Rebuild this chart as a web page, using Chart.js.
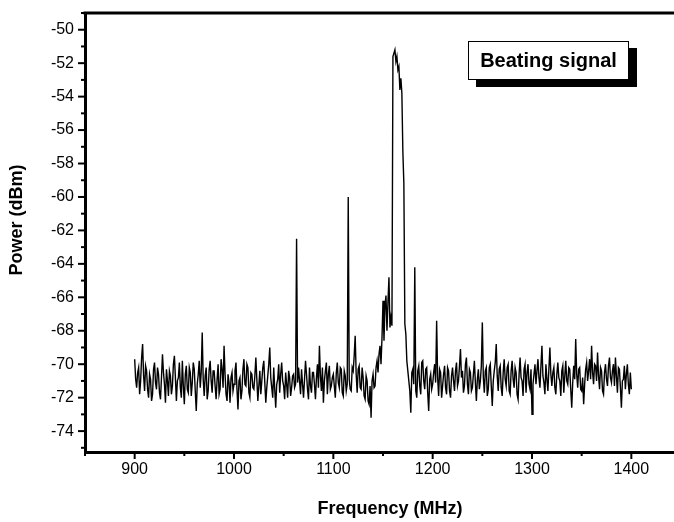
<!DOCTYPE html>
<html>
<head>
<meta charset="utf-8">
<script src="https://cdn.jsdelivr.net/npm/chart.js@4/dist/chart.umd.min.js"></script>
<style>
  html, body { margin: 0; padding: 0; background: #fff; overflow: hidden; width: 674px; height: 522px; }
  #wrap { position: absolute; left: 0; top: 0; width: 690px; height: 522px; }
  #legendBox {
    position: absolute; left: 468px; top: 41px; width: 161px; height: 39px;
    border: 1px solid #000; background: #fff; box-shadow: 8px 7px 0 #000;
    font: bold 20px "Liberation Sans", Arial, sans-serif; color: #000;
    display: flex; align-items: center; justify-content: center; box-sizing: border-box;
  }
</style>
</head>
<body>
<div id="wrap"><canvas id="c" width="690" height="522"></canvas></div>
<div id="legendBox">Beating signal</div>
<script>
// ---- data ----
const freqStart = 900;      // MHz, first sample
const freqStep = 1;         // MHz between samples (501 points, 900..1400)
const powerDbm = [
  -69.7,-70.9,-71.4,-70.5,-70.2,-71.8,-71.0,-69.6,-68.8,-70.7,-71.6,-70.1,-70.4,-71.5,-72.0,-70.6,-70.9,-72.2,-71.8,-70.3,
  -69.9,-71.1,-71.5,-70.2,-70.6,-71.7,-72.1,-70.8,-69.4,-70.5,-71.2,-72.3,-70.3,-71.0,-71.9,-70.4,-70.7,-71.8,-71.3,-70.0,
  -69.5,-70.8,-72.2,-71.0,-70.8,-69.9,-71.4,-72.0,-69.8,-71.3,-72.4,-70.6,-70.1,-71.5,-71.7,-70.2,-70.5,-71.9,-71.1,-69.9,
  -70.3,-71.6,-72.8,-71.2,-70.6,-69.8,-71.4,-70.5,-68.1,-70.9,-71.9,-70.7,-70.2,-72.1,-71.6,-70.3,-69.8,-71.0,-71.7,-70.4,
  -70.4,-71.3,-72.1,-70.9,-70.0,-71.8,-71.5,-69.7,-70.3,-71.4,-68.9,-70.6,-71.8,-72.2,-70.6,-71.1,-72.3,-70.8,-70.5,-71.6,
  -71.2,-70.4,-69.9,-71.5,-72.7,-71.0,-70.8,-72.1,-71.6,-70.3,-69.7,-71.2,-71.3,-70.0,-70.2,-71.7,-72.0,-70.5,-70.6,-71.4,
  -71.5,-70.7,-69.6,-70.9,-72.2,-71.3,-70.4,-71.8,-71.0,-70.2,-69.8,-71.1,-72.3,-71.4,-70.7,-70.0,-69.0,-70.8,-71.4,-72.0,
  -70.2,-71.5,-72.6,-71.2,-70.9,-70.0,-71.7,-70.6,-69.9,-71.0,-71.3,-72.1,-70.5,-71.2,-72.0,-70.4,-70.8,-71.9,-71.4,-70.7,
  -70.6,-71.4,-71.2,-62.5,-71.1,-70.2,-71.0,-71.8,-70.3,-71.2,-72.0,-70.9,-69.8,-70.6,-71.5,-72.1,-70.2,-71.3,-71.7,-70.5,
  -70.5,-71.2,-72.1,-70.8,-70.0,-71.4,-68.9,-70.7,-71.6,-70.2,-72.3,-71.0,-70.4,-69.9,-71.8,-70.6,-70.1,-71.5,-71.3,-70.8,
  -70.6,-71.3,-72.0,-70.5,-69.9,-71.1,-71.4,-70.2,-70.3,-71.7,-71.9,-70.4,-70.7,-71.6,-71.2,-60.0,-70.9,-71.5,-71.6,-70.2,
  -70.4,-69.5,-68.3,-70.6,-71.7,-70.3,-70.1,-71.4,-71.5,-70.2,-70.8,-71.9,-72.1,-70.7,-71.0,-72.2,-72.4,-71.3,-73.2,-71.0,
  -70.6,-71.4,-71.3,-70.2,-69.8,-70.5,-69.4,-68.9,-70.0,-68.4,-66.2,-68.6,-66.5,-65.9,-68.0,-66.3,-64.8,-67.8,-67.2,-67.7,
  -51.6,-51.4,-51.2,-51.9,-51.6,-52.4,-52.2,-53.6,-52.9,-53.8,-57.3,-59.2,-67.6,-68.2,-69.8,-70.4,-71.0,-71.6,-72.9,-70.5,
  -70.3,-71.2,-64.2,-71.6,-72.0,-70.4,-70.1,-71.3,-71.8,-69.9,-69.8,-71.0,-71.5,-70.3,-70.2,-71.7,-72.8,-70.9,-70.6,-71.5,
  -71.2,-70.5,-70.0,-71.1,-67.4,-70.8,-71.9,-70.3,-70.5,-72.0,-71.3,-70.6,-70.1,-71.4,-71.8,-70.2,-70.4,-71.6,-72.0,-70.7,
  -70.2,-71.0,-71.6,-70.4,-69.9,-71.3,-71.0,-70.1,-69.1,-70.8,-70.4,-71.7,-71.3,-70.0,-69.6,-71.2,-71.8,-70.3,-70.5,-71.6,
  -71.4,-70.6,-69.8,-71.1,-72.2,-70.9,-70.3,-71.5,-71.0,-70.1,-67.5,-70.8,-71.7,-70.4,-70.2,-71.9,-71.5,-70.2,-70.0,-71.3,
  -72.5,-71.0,-70.4,-69.9,-68.8,-70.7,-71.6,-70.3,-70.1,-71.4,-71.9,-70.5,-69.7,-70.9,-71.3,-70.2,-70.0,-71.6,-71.8,-70.4,
  -69.8,-70.9,-71.4,-70.2,-70.5,-71.8,-72.1,-70.6,-69.6,-70.8,-71.0,-71.9,-70.3,-70.0,-71.7,-70.5,-70.0,-71.2,-71.5,-70.3,
  -73.0,-71.2,-70.6,-70.0,-71.2,-70.4,-69.7,-70.8,-71.4,-70.1,-68.9,-70.7,-71.1,-71.8,-70.0,-70.9,-71.6,-70.3,-69.0,-70.6,
  -71.3,-70.5,-70.2,-71.4,-71.8,-70.6,-69.9,-70.8,-71.0,-71.9,-70.4,-70.1,-71.7,-70.7,-69.8,-71.0,-71.2,-70.2,-70.3,-71.5,
  -72.6,-71.1,-70.1,-70.9,-68.5,-70.6,-71.4,-70.3,-70.2,-71.5,-71.6,-70.8,-72.4,-71.2,-70.3,-69.9,-71.0,-70.4,-69.7,-70.9,
  -68.9,-70.5,-71.2,-70.0,-70.1,-71.0,-69.3,-70.7,-71.5,-70.2,-70.4,-71.6,-71.8,-70.5,-70.0,-70.9,-71.3,-70.1,-69.6,-70.8,
  -71.1,-70.4,-70.0,-71.3,-69.6,-70.7,-71.7,-70.2,-70.3,-71.4,-72.6,-71.0,-70.9,-70.1,-71.5,-70.6,-70.0,-71.2,-71.8,-70.5,
  -71.5
];
const xAxisTitle = 'Frequency (MHz)';
const yAxisTitle = 'Power (dBm)';
const xTickLabels = [900, 1000, 1100, 1200, 1300, 1400];
const yTickLabels = [-50, -52, -54, -56, -58, -60, -62, -64, -66, -68, -70, -72, -74];

const points = powerDbm.map((p, i) => ({ x: freqStart + i * freqStep, y: p }));

const FONT = '"Liberation Sans", Arial, sans-serif';

const frameTicks = {
  id: 'frameTicks',
  afterDraw(chart) {
    const ctx = chart.ctx, a = chart.chartArea;
    const xs = chart.scales.x, ys = chart.scales.y;
    ctx.save();
    ctx.strokeStyle = '#000';
    // top frame line
    ctx.lineWidth = 3;
    ctx.beginPath();
    ctx.moveTo(a.left - 1.5, a.top);
    ctx.lineTo(chart.width, a.top);
    ctx.stroke();
    // tick marks (outward)
    ctx.lineWidth = 2;
    xs.ticks.forEach(t => {
      if (!Number.isInteger(t.value / 50)) return;
      const px = xs.getPixelForValue(t.value);
      const len = xTickLabels.includes(t.value) ? 7 : 4;
      ctx.beginPath();
      ctx.moveTo(px, a.bottom);
      ctx.lineTo(px, a.bottom + len);
      ctx.stroke();
    });
    ys.ticks.forEach(t => {
      if (!Number.isInteger(t.value)) return;
      const py = ys.getPixelForValue(t.value);
      const len = yTickLabels.includes(t.value) ? 7 : 4;
      ctx.beginPath();
      ctx.moveTo(a.left, py);
      ctx.lineTo(a.left - len, py);
      ctx.stroke();
    });
    // axis titles
    ctx.fillStyle = '#000';
    ctx.font = 'bold 18px ' + FONT;
    ctx.textAlign = 'center';
    ctx.textBaseline = 'middle';
    ctx.fillText(xAxisTitle, 390, 509);
    ctx.translate(17, 220);
    ctx.rotate(-Math.PI / 2);
    ctx.fillText(yAxisTitle, 0, 0);
    ctx.restore();
  }
};

new Chart(document.getElementById('c'), {
  type: 'line',
  data: {
    datasets: [{
      data: points,
      borderColor: '#000',
      borderWidth: 1.4,
      pointRadius: 0,
      tension: 0,
      fill: false
    }]
  },
  options: {
    responsive: false,
    animation: false,
    events: [],
    layout: { padding: { top: 13, right: 9, left: 0, bottom: 0 } },
    plugins: { legend: { display: false }, tooltip: { enabled: false } },
    scales: {
      x: {
        type: 'linear',
        min: 850, max: 1450,
        afterFit: s => { s.height = 70; s.paddingLeft = 0; s.paddingRight = 0; },
        border: { display: true, color: '#000', width: 3 },
        grid: { display: true, drawOnChartArea: false, drawTicks: false },
        ticks: {
          stepSize: 50, includeBounds: false, padding: 8, maxRotation: 0, autoSkip: false,
          color: '#000', font: { family: FONT, size: 16 },
          callback: v => xTickLabels.includes(v) ? String(v) : ''
        }
      },
      y: {
        type: 'linear',
        min: -75.25, max: -49.0,
        afterFit: s => { s.width = 85; s.paddingTop = 0; s.paddingBottom = 0; },
        border: { display: true, color: '#000', width: 3 },
        grid: { display: true, drawOnChartArea: false, drawTicks: false },
        ticks: {
          stepSize: 1, includeBounds: false, padding: 11, autoSkip: false,
          color: '#000', font: { family: FONT, size: 16 },
          callback: v => yTickLabels.includes(v) ? String(v) : ''
        }
      }
    }
  },
  plugins: [frameTicks]
});
</script>
</body>
</html>
